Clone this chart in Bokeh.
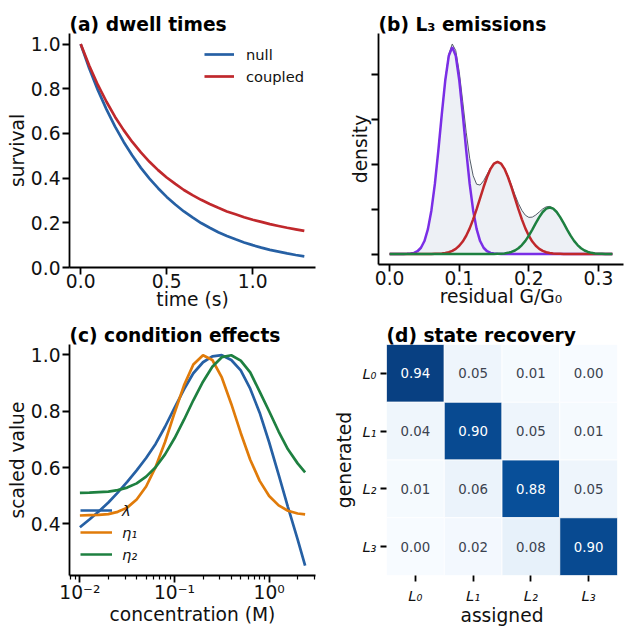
import numpy as np
from bokeh.plotting import figure
from bokeh.layouts import column, row
from bokeh.models import (FixedTicker, NumeralTickFormatter, CustomJSTickFormatter,
                          ColumnDataSource, FactorRange, Range1d)
from bokeh.transform import linear_cmap
from bokeh.palettes import Blues256
from bokeh.core.properties import value
from bokeh.embed import file_html
from bokeh.resources import INLINE

FONT = "DejaVu Sans"

# ---------------- (a) dwell times ----------------
time_s = [0.0, 0.05, 0.10, 0.15, 0.20, 0.25, 0.30, 0.35, 0.40, 0.45, 0.50, 0.55, 0.60, 0.65,
          0.70, 0.75, 0.80, 0.85, 0.90, 0.95, 1.00, 1.05, 1.10, 1.15, 1.20, 1.25, 1.30]
surv_null = [1.0, 0.891, 0.794, 0.708, 0.631, 0.562, 0.501, 0.446, 0.398, 0.355, 0.316, 0.282,
             0.251, 0.224, 0.199, 0.178, 0.158, 0.141, 0.126, 0.112, 0.100, 0.089, 0.079, 0.071,
             0.063, 0.056, 0.050]
surv_coupled = [1.0, 0.903, 0.817, 0.742, 0.674, 0.615, 0.562, 0.515, 0.473, 0.436, 0.403, 0.374,
                0.347, 0.324, 0.303, 0.284, 0.267, 0.251, 0.238, 0.225, 0.214, 0.204, 0.194, 0.186,
                0.178, 0.171, 0.164]

# ---------------- (b) L3 emissions ----------------
resid = np.linspace(0.0, 0.32, 65)
dens_c1 = ([0.0] * 4 + [0.01, 0.02, 0.05, 0.12, 0.31, 0.70, 1.45, 2.78, 4.87, 7.83, 11.56, 15.65,
                        19.43, 22.13, 23.10, 22.13, 19.43, 15.65, 11.56, 7.83, 4.87, 2.78, 1.45,
                        0.70, 0.31, 0.12, 0.05, 0.02, 0.01] + [0.0] * 32)
dens_c2 = ([0.0] * 12 + [0.01, 0.02, 0.03, 0.06, 0.11, 0.20, 0.35, 0.58, 0.92, 1.39, 2.04, 2.86,
                         3.87, 5.01, 6.25, 7.48, 8.60, 9.51, 10.10, 10.30, 10.10, 9.51, 8.60, 7.48,
                         6.25, 5.01, 3.87, 2.86, 2.04, 1.39, 0.92, 0.58, 0.35, 0.20, 0.11, 0.06,
                         0.03, 0.02, 0.01] + [0.0] * 14)
dens_c3 = ([0.0] * 30 + [0.01, 0.02, 0.03, 0.07, 0.13, 0.23, 0.39, 0.64, 1.00, 1.47, 2.05, 2.73,
                         3.44, 4.12, 4.69, 5.07, 5.20, 5.07, 4.69, 4.12, 3.44, 2.73, 2.05, 1.47,
                         1.00, 0.64, 0.39, 0.23, 0.13, 0.07, 0.03, 0.02, 0.01, 0.01, 0.00])
dens_total = np.array(dens_c1) + np.array(dens_c2) + np.array(dens_c3)

# ---------------- (c) condition effects ----------------
conc = [0.01, 0.0126, 0.0158, 0.02, 0.0251, 0.0316, 0.0398, 0.0501, 0.0631, 0.0794, 0.1, 0.126,
        0.158, 0.2, 0.251, 0.316, 0.398, 0.501, 0.631, 0.794, 1.0, 1.26, 1.58, 2.0, 2.4]
lam = [0.388, 0.416, 0.444, 0.476, 0.511, 0.549, 0.590, 0.634, 0.684, 0.745, 0.812, 0.878, 0.935,
       0.974, 0.995, 0.999, 0.982, 0.945, 0.880, 0.795, 0.690, 0.575, 0.460, 0.345, 0.252]
eta1 = [0.430, 0.431, 0.432, 0.435, 0.443, 0.458, 0.487, 0.533, 0.602, 0.691, 0.794, 0.892, 0.966,
        0.999, 0.982, 0.920, 0.826, 0.723, 0.628, 0.553, 0.499, 0.466, 0.447, 0.437, 0.434]
eta2 = [0.510, 0.511, 0.513, 0.515, 0.520, 0.529, 0.544, 0.568, 0.601, 0.647, 0.704, 0.770, 0.839,
        0.905, 0.958, 0.992, 0.999, 0.980, 0.938, 0.870, 0.800, 0.728, 0.665, 0.615, 0.583]

# ---------------- (d) state recovery ----------------
states = ["L\u2080", "L\u2081", "L\u2082", "L\u2083"]
recovery = [[0.94, 0.05, 0.01, 0.00],
            [0.04, 0.90, 0.05, 0.01],
            [0.01, 0.06, 0.88, 0.05],
            [0.00, 0.02, 0.08, 0.90]]

BLUE = "#2660a4"
RED = "#c0282c"
PURPLE = "#7a2ee6"
GREEN = "#1e8040"
ORANGE = "#e07b0a"


def style(p, title):
    p.title.text = title
    p.title.text_font = FONT
    p.title.text_font_size = "14pt"
    p.title.text_font_style = "bold"
    p.title.text_color = "black"
    p.title.align = "left"
    p.title.standoff = -3
    p.title.offset = 0
    p.outline_line_color = None
    p.grid.visible = False
    for ax in p.axis:
        ax.axis_line_width = 1.8
        ax.axis_line_color = "black"
        ax.major_tick_line_width = 1.8
        ax.major_tick_out = 7
        ax.major_tick_in = 0
        ax.minor_tick_line_color = None
        ax.major_label_text_font = FONT
        ax.major_label_text_font_size = "14pt"
        ax.major_label_text_color = "#111111"
        ax.major_label_text_line_height = 1.0
        ax.major_label_standoff = 2
        ax.axis_label_text_font = FONT
        ax.axis_label_text_font_size = "14pt"
        ax.axis_label_text_font_style = "normal"
        ax.axis_label_text_color = "#111111"
        ax.axis_label_text_line_height = 1.0
        ax.axis_label_standoff = 0
    for ax in p.xaxis:
        ax.major_label_standoff = -1
        ax.axis_label_standoff = -2


def fig(fw, fh, left, right, top, bottom, **kw):
    return figure(frame_width=fw, frame_height=fh, output_backend="svg", toolbar_location=None,
                  min_border_left=left, min_border_right=right, min_border_top=top,
                  min_border_bottom=bottom, **kw)


# (a)
pa = fig(246, 234, 69, 1, 30, 52, x_range=Range1d(-0.065, 1.365), y_range=Range1d(0, 1.0475))
pa.line(time_s, surv_null, line_color=BLUE, line_width=2.7, legend_label="null")
pa.line(time_s, surv_coupled, line_color=RED, line_width=2.7, legend_label="coupled")
style(pa, "(a) dwell times")
pa.xaxis.ticker = FixedTicker(ticks=[0.0, 0.5, 1.0])
pa.yaxis.ticker = FixedTicker(ticks=[0.0, 0.2, 0.4, 0.6, 0.8, 1.0])
pa.xaxis.formatter = NumeralTickFormatter(format="0.0")
pa.yaxis.formatter = NumeralTickFormatter(format="0.0")
pa.xaxis.axis_label = "time (s)"
pa.yaxis.axis_label = "survival"
pa.legend.location = "top_right"
pa.legend.border_line_alpha = 0
pa.legend.background_fill_alpha = 0
pa.legend.label_text_font = FONT
pa.legend.label_text_font_size = "11pt"
pa.legend.label_text_color = "#111111"
pa.legend.glyph_width = 30
pa.legend.glyph_height = 20
pa.legend.label_height = 20
pa.legend.spacing = 2
pa.legend.label_standoff = 12
pa.legend.margin = 0
pa.legend.padding = 11

# (b)
pb = fig(245, 231, 62, 1, 33, 52, x_range=Range1d(-0.016, 0.336), y_range=Range1d(-1.17, 24.62))
pb.varea(x=resid, y1=0, y2=dens_total, fill_color="#edf0f5")
pb.line(resid, dens_total, line_color="#555d68", line_width=1.0)
pb.line(resid, dens_c1, line_color=PURPLE, line_width=2.5)
pb.line(resid, dens_c2, line_color=RED, line_width=2.5)
pb.line(resid, dens_c3, line_color=GREEN, line_width=2.5)
style(pb, "(b) L\u2083 emissions")
pb.xaxis.ticker = FixedTicker(ticks=[0.0, 0.1, 0.2, 0.3])
pb.xaxis.formatter = NumeralTickFormatter(format="0.0")
pb.yaxis.ticker = FixedTicker(ticks=[0, 5, 10, 15, 20])
pb.yaxis.formatter = CustomJSTickFormatter(code="return '';")
pb.yaxis.major_label_standoff = 0
pb.yaxis.axis_label_standoff = 1
pb.xaxis.axis_label = "residual G/G\u2080"
pb.yaxis.axis_label = "density"

# (c)
pc = fig(246, 231, 69, 1, 28, 50, x_axis_type="log",
         x_range=Range1d(10 ** -2.11, 10 ** 0.49), y_range=Range1d(0.217, 1.037))
pc.line(conc, lam, line_color=BLUE, line_width=2.7, legend_label="\u03bb")
pc.line(conc, eta1, line_color=ORANGE, line_width=2.7, legend_label="\u03b7\u2081")
pc.line(conc, eta2, line_color=GREEN, line_width=2.7, legend_label="\u03b7\u2082")
style(pc, "(c) condition effects")
minor = [0.008, 0.009] + [k / 100 for k in range(2, 10)] + [k / 10 for k in range(2, 10)] + [2.0, 3.0]
pc.xaxis.ticker = FixedTicker(ticks=[0.01, 0.1, 1.0], minor_ticks=minor)
pc.xaxis.minor_tick_line_color = "black"
pc.xaxis.minor_tick_line_width = 1.2
pc.xaxis.minor_tick_out = 4
pc.xaxis.minor_tick_in = 0
pc.xaxis.formatter = CustomJSTickFormatter(code="""
const e = Math.round(Math.log10(tick));
const m = {'-': '\u207b', '0': '\u2070', '1': '\u00b9', '2': '\u00b2', '3': '\u00b3'};
return '10' + String(e).split('').map(c => m[c]).join('');
""")
pc.yaxis.ticker = FixedTicker(ticks=[0.4, 0.6, 0.8, 1.0])
pc.yaxis.formatter = NumeralTickFormatter(format="0.0")
pc.xaxis.axis_label = "concentration (M)"
pc.yaxis.axis_label = "scaled value"
pc.legend.location = "bottom_left"
pc.legend.border_line_alpha = 0
pc.legend.background_fill_alpha = 0
pc.legend.label_text_font = FONT
pc.legend.label_text_font_size = "11pt"
pc.legend.label_text_font_style = "italic"
pc.legend.label_text_color = "#111111"
pc.legend.glyph_width = 32
pc.legend.glyph_height = 20
pc.legend.label_height = 20
pc.legend.spacing = 2
pc.legend.label_standoff = 10
pc.legend.margin = 1
pc.legend.padding = 10

# (d)
xs, ys, vals, labels, tcol = [], [], [], [], []
for i, gen in enumerate(states):
    for j, asg in enumerate(states):
        v = recovery[i][j]
        xs.append(asg)
        ys.append(gen)
        vals.append(v)
        labels.append(f"{v:.2f}")
        tcol.append("white" if v > 0.5 else "#3c4350")
src = ColumnDataSource(dict(x=xs, y=ys, val=vals, label=labels, tcol=tcol))
pd_ = fig(231, 231, 70, 7, 28, 50, x_range=FactorRange(factors=states),
          y_range=FactorRange(factors=states[::-1]))
pd_.rect(x="x", y="y", width=1, height=1, source=src,
         fill_color=linear_cmap("val", list(Blues256[::-1]), 0, 1),
         line_color="white", line_width=0.8)
pd_.text(x="x", y="y", text="label", source=src, text_color="tcol",
         text_align="center", text_baseline="middle",
         text_font=value(FONT), text_font_size="10pt")
style(pd_, "(d) state recovery")
for ax in pd_.axis:
    ax.axis_line_color = None
    ax.major_label_text_font_style = "italic"
    ax.major_label_text_font_size = "11pt"
    ax.major_tick_out = 6
pd_.xaxis.major_label_standoff = 5
pd_.xaxis.axis_label_standoff = -2
pd_.yaxis.major_label_standoff = 4
pd_.yaxis.axis_label_standoff = 4
pd_.xaxis.axis_label = "assigned"
pd_.yaxis.axis_label = "generated"

layout = column(row(pa, pb), row(pc, pd_))
open("out.html", "w").write(file_html(layout, INLINE))
